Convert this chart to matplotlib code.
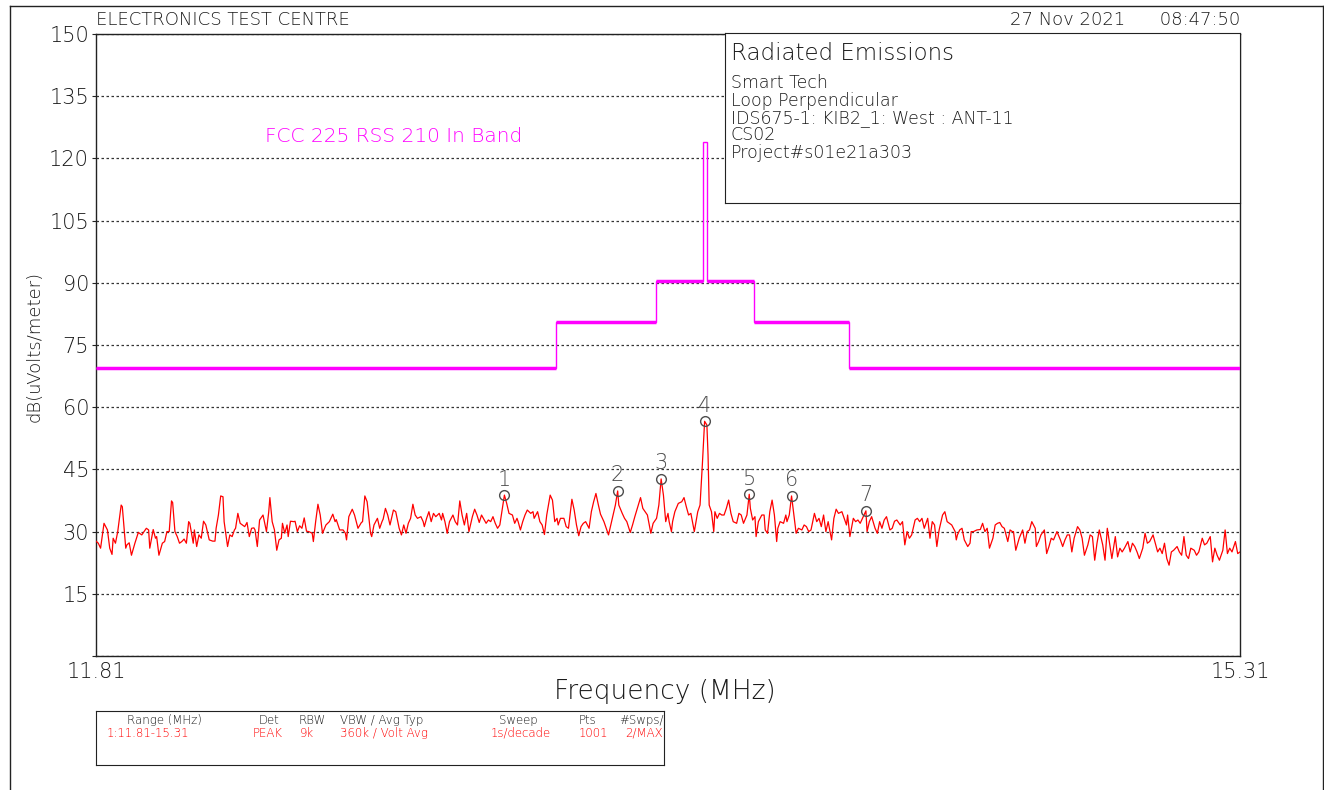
import numpy as np
import matplotlib
matplotlib.use('Agg')
import matplotlib.pyplot as plt
from matplotlib.lines import Line2D

# sweep setup: 1001 log-spaced points
f_start, f_stop, n_pts = 11.81, 15.31, 1001

# measured trace, (sweep point, dB(uV/m)), one list per quarter of the sweep
trace_q1 = [(0, 27.7), (2, 27.2), (4, 26.0), (7, 32.0), (10, 30.4), (12, 26.0), (14, 24.5), (15, 28.4),
            (17, 27.2), (19, 30.0), (22, 36.4), (23, 36.0), (26, 26.0), (27, 26.8), (29, 27.3), (31, 24.3),
            (34, 27.2), (37, 29.8), (40, 29.2), (44, 30.8), (46, 30.4), (47, 26.0), (50, 30.5), (52, 28.4),
            (53, 28.8), (55, 24.3), (58, 27.2), (60, 27.6), (62, 30.0), (64, 30.0), (66, 37.4), (67, 37.0),
            (69, 30.0), (71, 28.8), (73, 27.2), (75, 27.6), (77, 28.2), (79, 27.2), (81, 32.4), (82, 32.0),
            (85, 27.2), (86, 30.4), (88, 26.4), (90, 29.2), (92, 28.4), (94, 32.5), (96, 31.6), (99, 28.0),
            (102, 27.7), (104, 27.7), (105, 30.8), (107, 34.0), (109, 38.6), (111, 38.4), (112, 32.4),
            (115, 26.4), (117, 29.2), (119, 28.8), (121, 30.4), (122, 30.8), (124, 34.4), (126, 32.0),
            (128, 31.6), (130, 31.2), (132, 32.2), (134, 28.8), (136, 30.8), (138, 30.9), (139, 30.4),
            (141, 26.4), (143, 32.8), (145, 33.6), (146, 34.0), (149, 30.0), (151, 34.8), (152, 38.2),
            (154, 32.4), (156, 30.4), (158, 25.5), (160, 28.0), (162, 28.4), (163, 32.0), (165, 29.6),
            (167, 31.6), (168, 28.8), (170, 32.5), (173, 32.4), (174, 32.5), (176, 30.0), (178, 31.4),
            (180, 30.8), (182, 33.3), (184, 30.1), (186, 30.0), (189, 29.6), (190, 27.6), (192, 32.4),
            (194, 36.6), (196, 34.0), (198, 29.6), (201, 31.6), (204, 32.4), (207, 34.2), (209, 32.4),
            (210, 32.9), (213, 30.4), (216, 30.4), (218, 29.6), (219, 28.0), (221, 33.6), (224, 35.4),
            (226, 34.0), (229, 30.8), (232, 32.2), (233, 32.4), (235, 38.6), (237, 37.2), (240, 29.6),
            (241, 28.8), (243, 31.6), (246, 33.2), (248, 30.8), (250, 32.4), (251, 33.0), (253, 35.6)]
trace_q2 = [(255, 34.0), (257, 31.6), (260, 35.2), (262, 34.8), (265, 30.8), (267, 29.2), (269, 31.6),
            (271, 29.6), (273, 32.0), (275, 33.2), (277, 36.6), (279, 34.0), (281, 33.2), (284, 33.6),
            (286, 32.4), (287, 31.2), (289, 33.2), (291, 34.8), (293, 32.4), (295, 34.4), (297, 33.6),
            (300, 34.4), (302, 32.8), (303, 34.4), (305, 32.4), (307, 29.6), (309, 32.4), (312, 34.0),
            (314, 32.4), (316, 31.6), (318, 37.4), (320, 34.0), (322, 31.6), (324, 34.4), (326, 30.0),
            (329, 33.6), (331, 35.4), (333, 34.0), (335, 32.2), (337, 34.0), (339, 33.0), (341, 32.0),
            (343, 32.8), (345, 32.4), (347, 33.6), (349, 32.0), (351, 30.8), (353, 31.6), (355, 35.2),
            (357, 38.8), (359, 36.8), (361, 34.4), (364, 34.0), (366, 32.0), (368, 33.2), (369, 32.4),
            (371, 30.4), (373, 32.4), (375, 34.0), (377, 35.2), (380, 34.4), (382, 34.8), (383, 33.2),
            (386, 34.8), (388, 32.4), (390, 31.6), (392, 29.3), (394, 34.0), (397, 38.8), (399, 37.6),
            (401, 32.4), (403, 33.2), (404, 31.6), (406, 33.2), (409, 33.2), (411, 31.2), (413, 30.8),
            (416, 37.8), (418, 35.2), (420, 31.6), (422, 29.0), (424, 31.2), (426, 32.0), (428, 32.4),
            (431, 30.8), (433, 34.8), (435, 37.2), (437, 39.2), (439, 36.6), (441, 34.2), (444, 32.4),
            (446, 30.8), (448, 29.2), (450, 31.6), (452, 34.0), (454, 36.4), (456, 39.8), (457, 36.4),
            (460, 34.4), (462, 33.2), (464, 32.4), (467, 29.8), (469, 31.6), (471, 33.6), (474, 36.4),
            (476, 38.2), (478, 35.6), (480, 34.8), (482, 34.0), (485, 29.6), (487, 32.0), (490, 33.2),
            (492, 36.4), (494, 42.7), (496, 38.8), (498, 32.4), (500, 34.4), (501, 32.4), (503, 30.0)]
trace_q3 = [(504, 32.4), (506, 34.8), (509, 36.8), (512, 37.2), (514, 38.2), (516, 36.0), (518, 34.0),
            (520, 34.4), (523, 30.0), (526, 34.8), (528, 36.4), (530, 46.0), (532, 56.6), (534, 55.7),
            (535, 48.5), (536, 36.4), (538, 34.8), (540, 30.0), (541, 34.8), (543, 33.2), (545, 34.4),
            (547, 34.0), (549, 34.0), (551, 35.6), (553, 37.6), (555, 34.4), (557, 32.4), (560, 32.0),
            (562, 34.4), (564, 34.0), (566, 32.0), (569, 34.0), (571, 39.0), (572, 35.6), (574, 32.8),
            (576, 33.6), (577, 28.8), (579, 32.4), (582, 34.0), (584, 34.0), (585, 30.4), (587, 29.6),
            (589, 34.8), (591, 37.6), (593, 34.0), (595, 27.6), (596, 30.8), (598, 32.4), (601, 32.0),
            (603, 34.0), (604, 32.4), (606, 34.0), (608, 38.6), (610, 34.0), (612, 29.6), (614, 30.8),
            (617, 30.4), (619, 31.6), (621, 31.2), (623, 30.0), (625, 30.4), (628, 34.4), (630, 32.4),
            (632, 33.2), (634, 31.2), (636, 34.0), (638, 30.0), (640, 32.4), (643, 28.0), (645, 33.2),
            (647, 35.4), (649, 34.4), (652, 34.8), (654, 33.2), (656, 31.6), (657, 34.0), (659, 28.8),
            (662, 33.2), (664, 32.4), (666, 32.8), (668, 32.0), (670, 33.2), (673, 35.0), (674, 30.0),
            (676, 32.4), (678, 33.6), (681, 30.8), (683, 29.6), (685, 32.4), (687, 30.8), (689, 32.8),
            (691, 33.6), (694, 30.4), (696, 30.8), (698, 32.5), (700, 32.8), (703, 31.6), (705, 32.4),
            (707, 26.8), (709, 30.0), (711, 28.4), (713, 29.2), (716, 32.8), (718, 33.2), (720, 32.4),
            (722, 33.2), (724, 30.8), (727, 33.2), (729, 28.4), (731, 32.4), (733, 31.6), (735, 26.4),
            (737, 30.4), (740, 34.0), (742, 34.8), (744, 32.4), (746, 32.0), (748, 31.6), (751, 30.0),
            (752, 28.0)]
trace_q4 = [(753, 29.2), (755, 30.4), (757, 30.8), (759, 28.0), (762, 26.4), (764, 27.2), (765, 30.0),
            (767, 30.0), (770, 30.4), (773, 30.5), (775, 32.0), (777, 30.0), (779, 30.8), (781, 26.0),
            (784, 28.4), (786, 31.6), (788, 32.0), (790, 32.2), (792, 31.2), (794, 30.8), (797, 27.6),
            (799, 30.4), (801, 30.0), (802, 30.0), (804, 25.5), (807, 28.4), (810, 30.4), (812, 27.2),
            (814, 30.0), (816, 30.4), (818, 32.4), (821, 30.8), (822, 26.4), (824, 27.6), (826, 29.2),
            (829, 30.4), (831, 24.7), (833, 26.4), (835, 28.4), (837, 28.0), (840, 30.0), (843, 28.0),
            (845, 26.4), (847, 28.0), (849, 29.2), (851, 29.2), (853, 25.1), (855, 28.4), (858, 31.2),
            (860, 30.4), (862, 28.4), (864, 24.3), (867, 26.8), (869, 29.2), (871, 28.8), (873, 23.1),
            (875, 27.2), (877, 30.4), (880, 26.8), (882, 23.1), (884, 30.8), (886, 27.2), (888, 23.5),
            (891, 28.8), (893, 23.9), (895, 26.0), (897, 25.1), (899, 26.0), (902, 27.6), (904, 25.1),
            (906, 27.2), (908, 26.4), (910, 25.1), (912, 23.5), (915, 26.0), (917, 29.6), (919, 27.2),
            (921, 27.6), (924, 29.2), (926, 27.2), (928, 25.1), (930, 26.0), (932, 24.7), (934, 27.2),
            (936, 23.5), (938, 21.9), (940, 25.1), (942, 25.5), (945, 26.4), (947, 25.1), (949, 24.3),
            (951, 28.8), (953, 24.3), (955, 23.5), (957, 26.0), (960, 25.5), (962, 24.3), (964, 25.1),
            (967, 28.4), (969, 26.8), (971, 27.2), (974, 28.8), (976, 22.7), (978, 26.0), (980, 24.3),
            (982, 23.1), (985, 25.5), (987, 30.4), (989, 24.7), (991, 26.0), (993, 25.1), (996, 27.6),
            (998, 24.7), (1000, 25.1)]

# FCC 15.225 / RSS-210 limit (3 m), band edges in MHz and level per band
limit_edges = [11.81, 13.110, 13.410, 13.553, 13.567, 13.710, 14.010, 15.31]
limit_db = [69.5, 80.5, 90.5, 124.0, 90.5, 80.5, 69.5]

# peak markers
marker_ids = ['1', '2', '3', '4', '5', '6', '7']
marker_pts = [357, 456, 494, 532, 571, 608, 673]
marker_db = [38.8, 39.8, 42.7, 56.6, 39.0, 38.6, 35.0]

info_lines = ['Smart Tech', 'Loop Perpendicular', 'IDS675-1: KIB2_1: West : ANT-11',
              'CS02', 'Project#s01e21a303']

def sweep_freq(pt):
    return f_start * (f_stop / f_start) ** (np.asarray(pt) / (n_pts - 1))

trace = np.array(trace_q1 + trace_q2 + trace_q3 + trace_q4)
trace_f = sweep_freq(trace[:, 0])
trace_db = trace[:, 1]

W, H = 1324, 790
plt.rcParams['font.family'] = 'DejaVu Sans'
plt.rcParams['font.weight'] = 'light'
fig = plt.figure(figsize=(W / 100, H / 100), dpi=100)

def fx(px):
    return px / W

def fy(py):
    return 1 - py / H

frame_col = '#222222'
txt_col = '#1a1a1a'

# outer page frame
fig.add_artist(Line2D([fx(10), fx(10)], [fy(6), 0], color=frame_col, lw=1))
fig.add_artist(Line2D([fx(10), fx(1323)], [fy(6), fy(6)], color=frame_col, lw=1))
fig.add_artist(Line2D([fx(1323), fx(1323)], [fy(6), 0], color=frame_col, lw=1))

ax = fig.add_axes([fx(96), fy(656), fx(1240) - fx(96), fy(34) - fy(656)])
ax.set_xscale('log')
ax.set_xlim(f_start, f_stop)
ax.set_ylim(0, 150)

ax.set_yticks(np.arange(0, 151, 15))
ax.set_yticklabels(['', '15', '30', '45', '60', '75', '90', '105', '120', '135', '150'])
ax.set_xticks([f_start, f_stop])
ax.set_xticklabels(['11.81', '15.31'])
ax.xaxis.set_minor_locator(matplotlib.ticker.NullLocator())
ax.tick_params(axis='y', length=3, width=0.8, pad=2, labelsize=15, labelcolor=txt_col, color=frame_col)
ax.tick_params(axis='x', length=0, pad=4, labelsize=15, labelcolor=txt_col)
ax.yaxis.grid(True, linestyle=(0, (2, 2)), color='#333333', lw=0.9)
for s in ax.spines.values():
    s.set_color(frame_col)
    s.set_linewidth(1)

# limit line: thin risers, heavier horizontal levels
ax.stairs(limit_db, limit_edges, baseline=None, color='#ff00ff', lw=1, zorder=3)
ax.hlines([v for v in limit_db if v < 100],
          [e for e, v in zip(limit_edges[:-1], limit_db) if v < 100],
          [e for e, v in zip(limit_edges[1:], limit_db) if v < 100],
          color='#ff00ff', lw=2.5, zorder=3)
ax.plot(trace_f, trace_db, color='#ff0000', lw=0.9, zorder=4)

mk_f = sweep_freq(marker_pts)
ax.plot(mk_f, marker_db, 'o', ms=7, mfc='none', mec='#4d4d4d', mew=1, zorder=5)
for lab, f, v in zip(marker_ids, mk_f, marker_db):
    ax.annotate(lab, (f, v), xytext=(0, 4), textcoords='offset points',
                ha='center', va='bottom', fontsize=15, color='#4d4d4d')

ax.text(0.148, 0.835, 'FCC 225 RSS 210 In Band', transform=ax.transAxes,
        color='#ff00ff', fontsize=14.5, va='center', ha='left')

# page header and axis titles
fig.text(fx(96), fy(20), 'ELECTRONICS TEST CENTRE', fontsize=13, color=txt_col, va='center')
fig.text(fx(1240), fy(20), '27 Nov 2021      08:47:50', fontsize=13, color=txt_col,
         va='center', ha='right')
fig.text(fx(35), fy(346), 'dB(uVolts/meter)', rotation=90, fontsize=13, color=txt_col,
         ha='center', va='center')
fig.text(fx(665), fy(692), 'Frequency (MHz)', fontsize=19, color=txt_col, ha='center', va='center')

# test description box
bx = fig.add_axes([fx(725), fy(203), fx(1240) - fx(725), fy(33) - fy(203)])
bx.set_xticks([])
bx.set_yticks([])
for s in bx.spines.values():
    s.set_color(frame_col)
bx.text(6 / 515, 1 - 20 / 170, 'Radiated Emissions', transform=bx.transAxes,
        fontsize=16.5, color=txt_col, va='center')
for i, line in enumerate(info_lines):
    bx.text(6 / 515, 1 - (50 + i * 17.5) / 170, line, transform=bx.transAxes,
            fontsize=12.5, color=txt_col, va='center')

# sweep settings table
tx = fig.add_axes([fx(96), fy(765), fx(664) - fx(96), fy(711) - fy(765)])
tx.set_xticks([])
tx.set_yticks([])
tx.set_xlim(96, 664)
tx.set_ylim(765, 711)
for s in tx.spines.values():
    s.set_color(frame_col)
headers = [('Range (MHz)', 127), ('Det', 259), ('RBW', 299), ('VBW / Avg Typ', 340),
           ('Sweep', 499), ('Pts', 579), ('#Swps/M', 619)]
values = [('1:11.81-15.31', 107), ('PEAK', 253), ('9k', 300), ('360k / Volt Avg', 340),
          ('1s/decade', 491), ('1001', 579), ('2/MAXH', 625)]
for t, x in headers:
    tx.text(x, 720, t, fontsize=8.5, color=txt_col, va='center', ha='left', clip_on=True)
for t, x in values:
    tx.text(x, 733, t, fontsize=8.5, color='#ff0000', va='center', ha='left', clip_on=True)

fig.savefig('out.png', dpi=100)
